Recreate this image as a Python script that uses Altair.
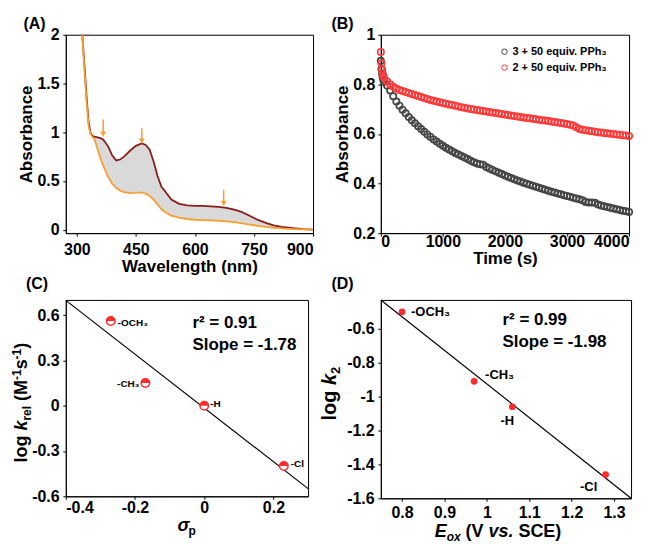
import altair as alt
import pandas as pd

FONT = "Liberation Sans"
ORANGE = "#f5a033"
DARKRED = "#8b1c1c"
RED = "#ff2a2a"

# ---------------- Panel A : UV-vis spectra ----------------
wavelength = [312, 316, 320, 325, 330, 335, 340, 345, 350, 360, 365, 370, 380, 390, 400,
              410, 420, 435, 450, 465, 475, 485, 495, 505, 515, 525, 540, 560, 580, 600,
              620, 640, 660, 680, 700, 720, 740, 760, 780, 800, 820, 850, 875, 900]
abs_initial = [2.10, 1.88, 1.65, 1.35, 1.10, 0.99, 0.96, 0.955, 0.95, 0.94, 0.93, 0.91, 0.85, 0.76, 0.71,
               0.72, 0.75, 0.81, 0.86, 0.885, 0.87, 0.82, 0.70, 0.55, 0.44, 0.39, 0.31, 0.265, 0.25, 0.245,
               0.245, 0.24, 0.235, 0.225, 0.205, 0.18, 0.14, 0.10, 0.07, 0.045, 0.03, 0.015, 0.005, 0.0]
abs_final = [2.10, 1.86, 1.60, 1.30, 1.06, 0.98, 0.95, 0.93, 0.86, 0.73, 0.68, 0.63, 0.54, 0.47, 0.43,
             0.40, 0.385, 0.375, 0.38, 0.38, 0.37, 0.345, 0.31, 0.26, 0.21, 0.18, 0.145, 0.125, 0.11, 0.102,
             0.098, 0.095, 0.092, 0.085, 0.077, 0.065, 0.052, 0.04, 0.03, 0.02, 0.013, 0.007, 0.003, 0.0]
arrow_wl = [367, 465, 673]
arrow_start = [1.13, 1.04, 0.41]
arrow_end = [0.98, 0.91, 0.27]

# ---------------- Panel B : kinetics ----------------
series_names = ["3 + 50 equiv. PPh\u2083", "2 + 50 equiv. PPh\u2083"]
series_colors = ["#454545", "#ff3b3b"]
t_early = [0, 10, 20, 30, 40]
black_early = [0.895, 0.862, 0.842, 0.828, 0.818]
red_early = [0.930, 0.885, 0.860, 0.845, 0.835]
t_main = list(range(50, 4001, 50))
black_main = [
    0.810, 0.795, 0.775, 0.752, 0.731, 0.714, 0.698, 0.683, 0.668, 0.655,
    0.643, 0.631, 0.620, 0.609, 0.598, 0.588, 0.578, 0.569, 0.560, 0.552,
    0.544, 0.537, 0.530, 0.523, 0.517, 0.511, 0.505, 0.499, 0.492, 0.486,
    0.481, 0.478, 0.476, 0.467, 0.461, 0.455, 0.449, 0.443, 0.438, 0.432,
    0.427, 0.422, 0.417, 0.412, 0.408, 0.403, 0.399, 0.395, 0.391, 0.387,
    0.383, 0.379, 0.375, 0.371, 0.367, 0.364, 0.360, 0.357, 0.353, 0.350,
    0.347, 0.343, 0.340, 0.337, 0.333, 0.326, 0.323, 0.323, 0.322, 0.315,
    0.311, 0.308, 0.305, 0.302, 0.299, 0.296, 0.293, 0.290, 0.288, 0.285]
red_main = [
    0.828, 0.812, 0.800, 0.790, 0.783, 0.777, 0.773, 0.769, 0.765, 0.761,
    0.757, 0.753, 0.749, 0.745, 0.741, 0.737, 0.734, 0.731, 0.728, 0.725,
    0.722, 0.719, 0.717, 0.714, 0.711, 0.708, 0.706, 0.703, 0.701, 0.699,
    0.696, 0.694, 0.692, 0.690, 0.688, 0.686, 0.684, 0.682, 0.680, 0.678,
    0.676, 0.674, 0.672, 0.670, 0.668, 0.666, 0.664, 0.663, 0.661, 0.659,
    0.657, 0.655, 0.654, 0.652, 0.650, 0.648, 0.646, 0.644, 0.642, 0.640,
    0.637, 0.634, 0.627, 0.620, 0.617, 0.615, 0.613, 0.611, 0.609, 0.607,
    0.606, 0.604, 0.603, 0.601, 0.600, 0.598, 0.597, 0.595, 0.594, 0.592]

# ---------------- Panel C : Hammett ----------------
substituents = ["-OCH\u2083", "-CH\u2083", "-H", "-Cl"]
sigma_p = [-0.27, -0.17, 0.0, 0.23]
log_krel = [0.56, 0.15, 0.0, -0.40]
fitC_x = [-0.4, 0.3]
fitC_y = [0.697, -0.549]

# ---------------- Panel D : Eox ----------------
e_ox = [0.80, 0.97, 1.06, 1.28]
log_k2 = [-0.50, -0.91, -1.06, -1.46]
fitD_x = [0.75, 1.34]
fitD_y = [-0.43, -1.60]

# ---------------- helpers ----------------
W = {' ': 278, '(': 333, ')': 333, '-': 333, '.': 278, 'C': 722, 'E': 667, 'M': 833,
     'S': 667, 'V': 667, 'e': 556, 'g': 611, 'k': 556, 'l': 278, 'o': 611, 'p': 611,
     'r': 389, 's': 556, 'v': 556, 'x': 556, '\u03c3': 620}


def twidth(s, size):
    return sum(W.get(c, 556) for c in s) / 1000 * size


ONE = alt.InlineData(values=[{"a": 0}])


def txt(s, x, y, size, italic=False, angle=0, align="left", baseline="alphabetic", color="black"):
    kw = dict(text=s, font=FONT, fontSize=size, fontWeight="bold", align=align,
              baseline=baseline, color=color)
    if italic:
        kw["fontStyle"] = "italic"
    if angle:
        kw["angle"] = angle
    return alt.Chart(ONE).mark_text(**kw).encode(x=alt.value(x), y=alt.value(y))


def rich(pieces, x0, y0, vertical=False):
    layers = []
    cum = 0.0
    for s, size, italic, shift in pieces:
        lead = len(s) - len(s.lstrip(" "))
        core = s.strip(" ")
        off = cum + twidth(" " * lead, size)
        if vertical:
            layers.append(txt(core, x0 + shift, y0 - off, size, italic, angle=270))
        else:
            layers.append(txt(core, x0 + off, y0 + shift, size, italic))
        cum += twidth(s, size)
    return layers


HYPH = "replace(format(datum.value, '.1~f'), '\u2212', '-')"
AX = dict(labelOverlap=False, labelBound=False)

# ---------------- Panel A ----------------
dfA = pd.DataFrame({"wl": wavelength, "top": abs_initial, "bot": abs_final})
dfArrow = pd.DataFrame({"wl": arrow_wl, "s": arrow_start, "e": arrow_end})
xA = alt.X("wl:Q", scale=alt.Scale(domain=[272, 900], nice=False, zero=False),
           axis=alt.Axis(values=[300, 450, 600, 750, 900], format="d", title="Wavelength (nm)",
                         labelPadding=5.5, titlePadding=1, **AX))
yAaxis = alt.Axis(values=[0, 0.5, 1, 1.5, 2], labelExpr=HYPH, title="Absorbance",
                  labelPadding=3.7, titlePadding=1, **AX)
scA = alt.Scale(domain=[-0.035, 2], nice=False, zero=False)
bandA = alt.Chart(dfA).mark_area(color="#d9d9d9", clip=True).encode(
    x=xA, y=alt.Y("bot:Q", scale=scA, axis=yAaxis), y2="top:Q")
lineTop = alt.Chart(dfA).mark_line(color=DARKRED, strokeWidth=1.8, clip=True).encode(
    x="wl:Q", y="top:Q")
lineBot = alt.Chart(dfA).mark_line(color=ORANGE, strokeWidth=1.8, clip=True).encode(
    x="wl:Q", y="bot:Q")
arrRule = alt.Chart(dfArrow).mark_rule(color=ORANGE, strokeWidth=1.5).encode(
    x="wl:Q", y="s:Q", y2="e:Q")
arrHead = alt.Chart(dfArrow).mark_point(shape="triangle-down", filled=True, color=ORANGE,
                                        size=35, opacity=1).encode(x="wl:Q", y="e:Q")
anchorTL = alt.Chart(ONE).mark_rect(opacity=0).encode(
    x=alt.value(-65), x2=alt.value(0), y=alt.value(-33), y2=alt.value(0))
panelA = alt.layer(bandA, lineTop, lineBot, arrRule, arrHead, anchorTL,
                   txt("(A)", -42.5, -6, 16)).properties(width=248, height=199)

# ---------------- Panel B ----------------
dfB = pd.DataFrame({
    "t": t_early + t_main + t_early + t_main,
    "a": black_early + black_main + red_early + red_main,
    "s": [series_names[0]] * (len(t_early) + len(t_main)) + [series_names[1]] * (len(t_early) + len(t_main)),
})
ptsB = alt.Chart(dfB).mark_point(shape="circle", filled=False, size=40, strokeWidth=1.7, opacity=1).encode(
    x=alt.X("t:Q", scale=alt.Scale(domain=[0, 4000], nice=False),
            axis=alt.Axis(values=[0, 1000, 2000, 3000, 4000], format="d", title="Time (s)",
                          labelPadding=-3, titlePadding=1, **AX)),
    y=alt.Y("a:Q", scale=alt.Scale(domain=[0.2, 1.0], nice=False, zero=False),
            axis=alt.Axis(values=[0.2, 0.4, 0.6, 0.8, 1.0], labelExpr=HYPH, title="Absorbance",
                          labelPadding=3, titlePadding=1, **AX)),
    color=alt.Color("s:N", scale=alt.Scale(domain=series_names, range=series_colors), legend=None),
)
legB = []
for i, (name, col) in enumerate(zip(series_names, series_colors)):
    yy = 17 + 16 * i
    legB.append(alt.Chart(ONE).mark_point(shape="circle", filled=False, size=30, strokeWidth=1,
                                          color=col, opacity=1).encode(x=alt.value(124), y=alt.value(yy)))
    legB.append(txt(name, 132, yy, 11, baseline="middle"))
panelB = alt.layer(ptsB, *legB, txt("(B)", -49.5, -6, 16)).properties(width=249, height=199)

# ---------------- Panel C ----------------
dfC = pd.DataFrame({"sub": substituents, "sx": sigma_p, "ly": log_krel})
dfFitC = pd.DataFrame({"sx": fitC_x, "ly": fitC_y})
xC = alt.X("sx:Q", scale=alt.Scale(domain=[-0.4, 0.3], nice=False, zero=False),
           axis=alt.Axis(values=[-0.4, -0.2, 0, 0.2], labelExpr=HYPH, title=None, labelPadding=0.3, **AX))
yC = alt.Y("ly:Q", scale=alt.Scale(domain=[-0.6, 0.7], nice=False, zero=False),
           axis=alt.Axis(values=[-0.6, -0.3, 0, 0.3, 0.6], labelExpr=HYPH, title=None,
                         labelPadding=3.7, **AX))
fitC = alt.Chart(dfFitC).mark_line(color="black", strokeWidth=1.2).encode(x=xC, y=yC)
circC = alt.Chart(dfC).mark_point(shape="circle", filled=True, fill="white", stroke=RED,
                                  strokeWidth=1.5, size=72, opacity=1).encode(x=xC, y=yC)
halfC = alt.Chart(dfC).mark_point(shape="M -1 0 A 1 1 0 0 1 1 0 Z", filled=True, color=RED,
                                  size=72, opacity=1).encode(x=xC, y=yC)


def labC(name, dx, dy, align):
    return alt.Chart(dfC).transform_filter(alt.datum.sub == name).mark_text(
        font=FONT, fontSize=10, fontWeight="bold", color="black", align=align,
        baseline="middle", dx=dx, dy=dy).encode(x=xC, y=yC, text="sub:N")


layersC = [fitC, circC, halfC,
           labC(substituents[0], 7, 1.5, "left"), labC(substituents[1], -6, 1, "right"),
           labC(substituents[2], 6, -2, "left"), labC(substituents[3], 7, -2, "left"),
           txt("r\u00b2 = 0.91", 127, 22.7, 17, baseline="middle"),
           txt("Slope = -1.78", 127, 45, 17, baseline="middle"),
           txt("(C)", -40, -11, 16)]
layersC += rich([("\u03c3", 18, True, 0), ("p", 12, False, 4)], 112, 232)
layersC += rich([("log ", 18, False, 0), ("k", 18, True, 0), ("rel", 12, False, 4),
                 (" (M", 18, False, 0), ("-1", 12, False, -6), ("s", 18, False, 0),
                 ("-1", 12, False, -6), (")", 18, False, 0)], -39, 163, vertical=True)
panelC = alt.layer(*layersC).properties(width=243, height=197)

# ---------------- Panel D ----------------
dfD = pd.DataFrame({"sub": substituents, "ex": e_ox, "lk": log_k2})
dfFitD = pd.DataFrame({"ex": fitD_x, "lk": fitD_y})
xD = alt.X("ex:Q", scale=alt.Scale(domain=[0.75, 1.34], nice=False, zero=False),
           axis=alt.Axis(values=[0.8, 0.9, 1.0, 1.1, 1.2, 1.3], labelExpr=HYPH, title=None,
                         labelPadding=3.5, **AX))
yD = alt.Y("lk:Q", scale=alt.Scale(domain=[-1.6, -0.43], nice=False, zero=False),
           axis=alt.Axis(values=[-1.6, -1.4, -1.2, -1.0, -0.8, -0.6], labelExpr=HYPH, title=None,
                         labelPadding=3.7, **AX))
fitD = alt.Chart(dfFitD).mark_line(color="black", strokeWidth=1.2).encode(x=xD, y=yD)
dotsD = alt.Chart(dfD).mark_point(shape="circle", filled=True, color=RED, size=45, opacity=1).encode(
    x=xD, y=yD)


def labD(name, dx, dy, align):
    return alt.Chart(dfD).transform_filter(alt.datum.sub == name).mark_text(
        font=FONT, fontSize=13, fontWeight="bold", color="black", align=align,
        baseline="middle", dx=dx, dy=dy).encode(x=xD, y=yD, text="sub:N")


anchorBR = alt.Chart(ONE).mark_rect(opacity=0).encode(
    x=alt.value(251), x2=alt.value(267), y=alt.value(199), y2=alt.value(245))
layersD = [fitD, dotsD,
           labD(substituents[0], 9, 0, "left"), labD(substituents[1], 11, -6, "left"),
           labD(substituents[2], -5, 14, "center"), labD(substituents[3], -17, 12, "center"),
           txt("r\u00b2 = 0.99", 122, 20.3, 17, baseline="middle"),
           txt("Slope = -1.98", 122, 42.7, 17, baseline="middle"),
           txt("(D)", -49.5, -11, 16), anchorBR]
layersD += rich([("E", 18, True, 0), ("ox", 12, True, 4), (" (V ", 18, False, 0),
                 ("vs.", 18, True, 0), (" SCE)", 18, False, 0)], 54, 237.5)
layersD += rich([("log ", 20, False, 0), ("k", 20, True, 0), ("2", 13, False, 4)],
                -45, 121, vertical=True)
panelD = alt.layer(*layersD).properties(width=251, height=199)

chart = alt.concat(panelA, panelB, panelC, panelD, columns=2,
                   spacing={"row": 67, "column": 68}, bounds="flush").properties(
    padding=0, background="white"
).configure_view(stroke="black", strokeWidth=1).configure_axis(
    labelFont=FONT, titleFont=FONT, labelFontSize=16, titleFontSize=17,
    labelFontWeight="bold", titleFontWeight="bold", labelColor="black", titleColor="black",
    tickColor="black", domainColor="black", tickSize=3, grid=False, domainWidth=1, tickWidth=1,
    labelOverlap=False
)

chart.save("out.html", embed_options={"renderer": "svg", "actions": False})
